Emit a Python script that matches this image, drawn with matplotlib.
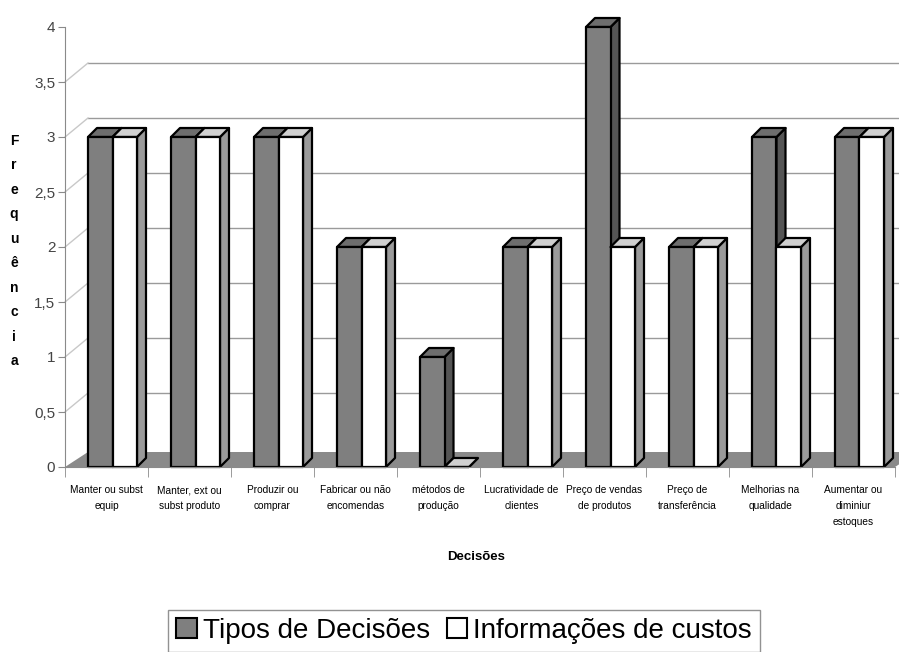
import matplotlib.pyplot as plt
from matplotlib.patches import Polygon, Patch

# dados do gráfico
categorias = ['Manter ou subst\nequip', 'Manter, ext ou\nsubst produto', 'Produzir ou\ncomprar',
              'Fabricar ou não\nencomendas', 'métodos de\nprodução', 'Lucratividade de\nclientes',
              'Preço de vendas\nde produtos', 'Preço de\ntransferência', 'Melhorias na\nqualidade',
              'Aumentar ou\ndiminiur\nestoques']
tipos_decisoes = [3, 3, 3, 2, 1, 2, 4, 2, 3, 3]
info_custos = [3, 3, 3, 2, 0, 2, 2, 2, 2, 3]
y_ticks = [0, 0.5, 1, 1.5, 2, 2.5, 3, 3.5, 4]
y_labels = ['0', '0,5', '1', '1,5', '2', '2,5', '3', '3,5', '4']

W, H = 899, 652
fig = plt.figure(figsize=(W / 100, H / 100), dpi=100)
ax = fig.add_axes([65 / W, 1 - 467 / H, 830 / W, 440 / H])
ax.set_xlim(-0.5, 9.5)
ax.set_ylim(0, 4)

# profundidade (efeito 3D tipo Excel)
px_x = 83.0   # pixels por categoria
px_y = 110.0  # pixels por unidade
wall_dx, wall_dy = 23 / px_x, 19 / px_y
floor_dy = 15 / px_y
bar_dx, bar_dy = 9 / px_x, 9 / px_y
bar_w = 24.5 / px_x

# chão
ax.add_patch(Polygon([(-0.5, 0), (9.5, 0), (9.5 + wall_dx, floor_dy), (-0.5 + wall_dx, floor_dy)],
                     closed=True, facecolor='#8a8a8a', edgecolor='none', clip_on=False, zorder=1))

# linhas de grade na parede do fundo + traços diagonais
for v in y_ticks[1:-1]:
    ax.plot([-0.5 + wall_dx, 9.5 + wall_dx], [v + wall_dy, v + wall_dy], color='#9a9a9a', lw=1,
            clip_on=False, zorder=0.5)
    ax.plot([-0.5, -0.5 + wall_dx], [v, v + wall_dy], color='#c8c8c8', lw=1, clip_on=False, zorder=0.5)


def barra3d(x0, h, cor_frente, cor_topo, cor_lado):
    x1 = x0 + bar_w
    frente = [(x0, 0), (x1, 0), (x1, h), (x0, h)]
    topo = [(x0, h), (x1, h), (x1 + bar_dx, h + bar_dy), (x0 + bar_dx, h + bar_dy)]
    lado = [(x1, 0), (x1 + bar_dx, bar_dy), (x1 + bar_dx, h + bar_dy), (x1, h)]
    for pts, c in [(lado, cor_lado), (topo, cor_topo), (frente, cor_frente)]:
        ax.add_patch(Polygon(pts, closed=True, facecolor=c, edgecolor='black', lw=1.6,
                             joinstyle='round', clip_on=False, zorder=2))


for i in range(len(categorias)):
    x0 = i - 0.5 + wall_dx
    barra3d(x0, tipos_decisoes[i], '#7f7f7f', '#6e6e6e', '#555555')
    barra3d(x0 + bar_w, info_custos[i], 'white', '#d0d0d0', '#9a9a9a')

# eixos
for s in ['top', 'right']:
    ax.spines[s].set_visible(False)
ax.spines['left'].set_color('#8a8a8a')
ax.spines['bottom'].set_color('#8a8a8a')
ax.spines['left'].set_zorder(3)
ax.spines['bottom'].set_zorder(3)

ax.set_yticks(y_ticks)
ax.set_yticklabels(y_labels, fontsize=11, color='#444444', family='Liberation Sans')
ax.tick_params(axis='y', length=5, color='#8a8a8a', pad=2)

ax.set_xticks(range(len(categorias)))
ax.set_xticklabels(categorias, fontsize=7.3, family='Liberation Sans', linespacing=1.75, va='top')
ax.tick_params(axis='x', length=0, pad=13)
ax.set_xticks([i - 0.5 for i in range(len(categorias) + 1)], minor=True)
ax.tick_params(axis='x', which='minor', length=7, color='#8a8a8a')

fig.text(476 / W, 1 - 557 / H, 'Decisões', ha='center', va='center', fontsize=9.5,
         fontweight='bold', family='Liberation Sans')
fig.text(14 / W, 1 - 251 / H, '\n'.join('Frequência'), ha='center', va='center', fontsize=10,
         fontweight='bold', family='Liberation Sans', linespacing=1.95)

# legenda
handles = [Patch(facecolor='#7f7f7f', edgecolor='black', lw=1.5, label='Tipos de Decisões'),
           Patch(facecolor='white', edgecolor='black', lw=1.5, label='Informações de custos')]
leg = fig.legend(handles=handles, loc='center', bbox_to_anchor=(464 / W, 1 - 631 / H), ncol=2,
                 frameon=True, fancybox=False, handlelength=0.75, handleheight=0.75,
                 handletextpad=0.2, columnspacing=0.6, borderpad=0.3, borderaxespad=0,
                 prop={'family': 'Liberation Sans', 'size': 20})
leg.get_frame().set_edgecolor('#777777')
leg.get_frame().set_linewidth(1)

fig.savefig('out.png', dpi=100, facecolor='white')
